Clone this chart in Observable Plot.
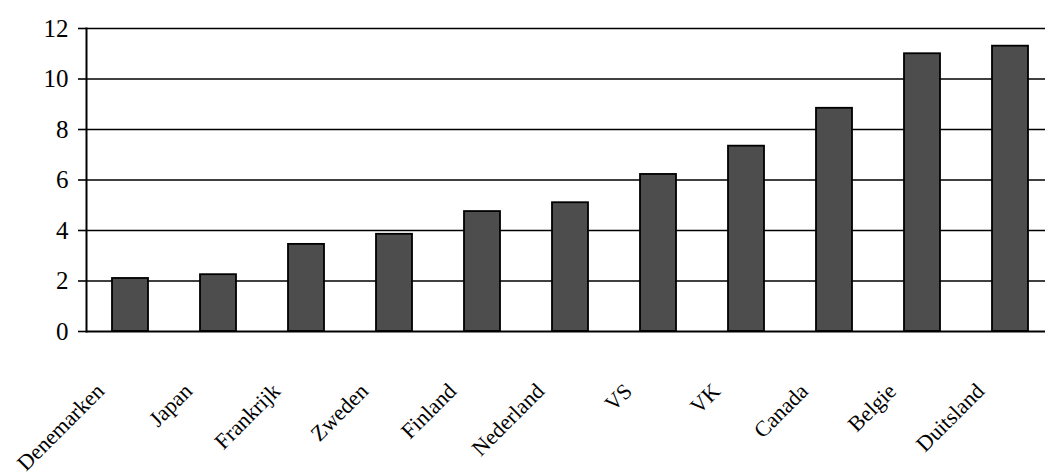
<!DOCTYPE html>
<html>
<head>
<meta charset="utf-8">
<script src="https://cdn.jsdelivr.net/npm/d3@7"></script>
<script src="https://cdn.jsdelivr.net/npm/@observablehq/plot@0.6"></script>
<style>
  html, body { margin: 0; padding: 0; background: #fff; }
  #chart svg { display: block; }
</style>
</head>
<body>
<div id="chart"></div>
<script>
const countries = ["Denemarken", "Japan", "Frankrijk", "Zweden", "Finland", "Nederland", "VS", "VK", "Canada", "Belgie", "Duitsland"];
const values = [2.1, 2.25, 3.45, 3.85, 4.75, 5.1, 6.22, 7.34, 8.84, 11.0, 11.3];
const yTicks = [0, 2, 4, 6, 8, 10, 12];

const data = countries.map((c, i) => ({country: c, value: values[i]}));

const chart = Plot.plot({
  width: 1045,
  height: 475,
  marginLeft: 86,
  marginRight: 0,
  marginTop: 28,
  marginBottom: 144,
  style: {fontFamily: "'Liberation Serif', serif", color: "black", background: "white"},
  x: {type: "band", domain: countries, range: [86, 1054], paddingInner: 0.59, paddingOuter: 0.295, label: null},
  y: {domain: [0, 12], label: null},
  marks: [
    Plot.ruleY(yTicks.filter(d => d > 0), {stroke: "black", strokeWidth: 1.6}),
    Plot.barY(data, {x: "country", y: "value", fill: "#4d4d4d", stroke: "black", strokeWidth: 1.8}),
    Plot.ruleY([0], {stroke: "black", strokeWidth: 2}),
    Plot.frame({anchor: "left", stroke: "black", strokeWidth: 2}),
    Plot.axisY({ticks: yTicks, tickSize: 8, tickPadding: 10, fontSize: 25, strokeWidth: 1.6, label: null}),
    Plot.axisX({tickSize: 0, tickRotate: -45, tickPadding: 48, fontSize: 22, dx: -30, dy: 8, label: null, style: {letterSpacing: "-3px"}})
  ]
});
document.getElementById("chart").appendChild(chart);
</script>
</body>
</html>
